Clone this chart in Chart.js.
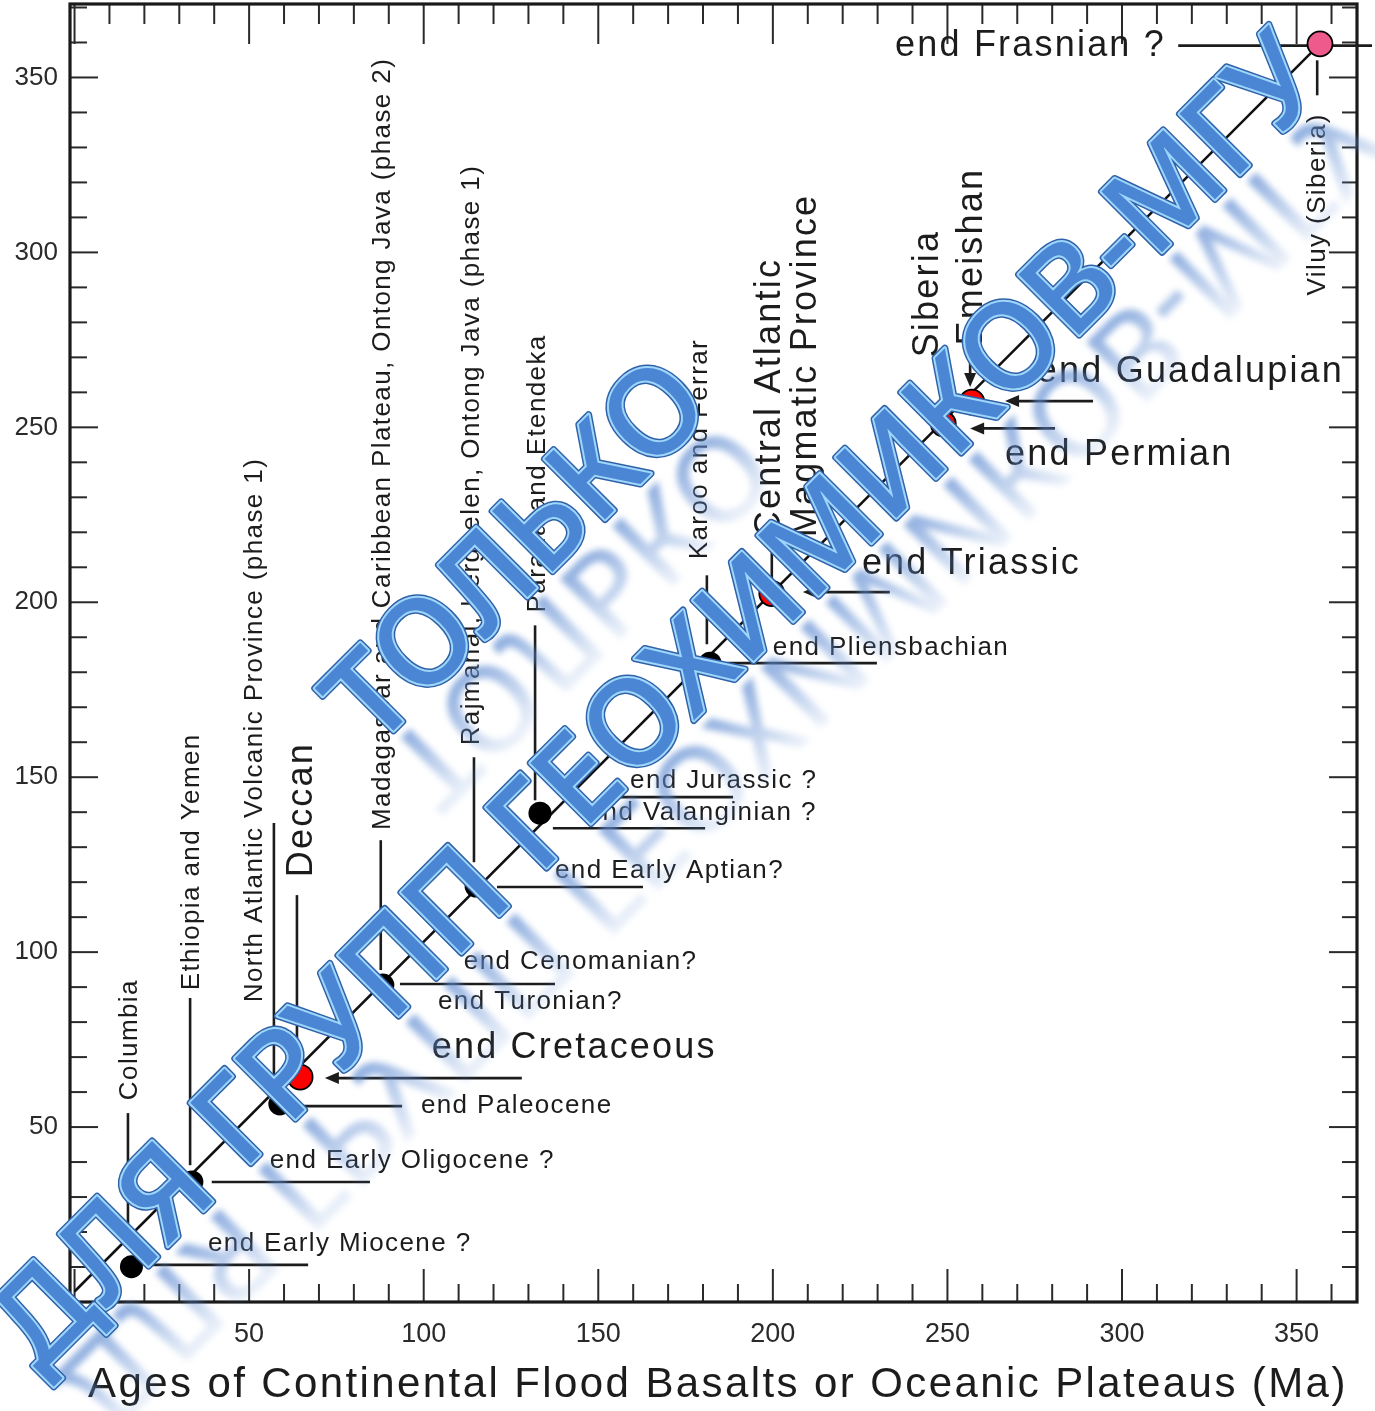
<!DOCTYPE html>
<html><head><meta charset="utf-8">
<script src="https://cdn.jsdelivr.net/npm/chart.js@4.4.1/dist/chart.umd.min.js"></script>
<style>html,body{margin:0;padding:0;background:#fff;} #wrap{width:1375px;height:1411px;}</style>
</head><body><div id="wrap"><canvas id="c" width="1375" height="1411"></canvas></div>
<script>
// ---------------- DATA ----------------
const provinces = ['Columbia','Ethiopia and Yemen','North Atlantic Volcanic Province (phase 1)','Deccan',
  'Madagascar and Caribbean Plateau, Ontong Java (phase 2)','Rajmahal, Kerguelen, Ontong Java (phase 1)',
  'Parana and Etendeka','Karoo and Ferrar','Central Atlantic Magmatic Province','Siberia','Emeishan','Viluy (Siberia)'];
const basaltAges     = [16.3, 33.6, 58.8, 64.6, 88.3, 115.0, 133.3, 182.0, 199.7, 248.8, 257.0, 356.7];
const extinctionAges = [10.1, 34.3, 56.6, 64.3, 90.6, 118.9, 139.7, 182.6, 202.5, 251.0, 257.2, 359.6];
const pointKind      = ['minor','minor','minor','major','minor','minor','minor','minor','major','major','major','devonian'];
const extinctionNames = ['end Early Miocene ?','end Early Oligocene ?','end Paleocene','end Cretaceous',
  'end Cenomanian?','end Turonian?','end Early Aptian?','end Jurassic ?','end Valanginian ?','end Pliensbachian',
  'end Triassic','end Permian','end Guadalupian','end Frasnian ?'];
const xTickLabels = [50,100,150,200,250,300,350];
const yTickLabels = [50,100,150,200,250,300,350];
const fitLineX = [0, 356.7];
const fitLineY = [3, 359.6];
const xTitle = 'Ages of Continental Flood Basalts or Oceanic Plateaus (Ma)';
const watermarkLines = ['ТОЛЬКО', 'ДЛЯ ГРУПП ГЕОХИМИКОВ-МГУ'];

// ---------------- LAYOUT (label placement, data units) ----------------
const extLayout = [
  {t:0,  x:38.2,  y:16.6,  lx:[21.6,66.9],   ly:10.6},
  {t:1,  x:55.9,  y:40.3,  lx:[39.3,84.6],   ly:34.3},
  {t:2,  x:99.2,  y:56.0,  lx:[64.0,93.8],   ly:56.0},
  {t:3,  x:102.3, y:72.6,  lx:[71.7,128.1],  ly:64.0, big:true, arrow:true},
  {t:4,  x:111.5, y:97.1},
  {t:5,  x:104.1, y:85.7,  lx:[93.2,137.6],  ly:90.9},
  {t:6,  x:137.6, y:123.1, lx:[121.0,162.8], ly:118.6},
  {t:7,  x:159.1, y:149.1, lx:[150.5,188.6], ly:144.3},
  {t:8,  x:146.7, y:139.7, lx:[137.0,180.6], ly:135.4},
  {t:9,  x:200.0, y:187.1, lx:[186.9,229.8], ly:182.6},
  {t:10, x:225.5, y:210.9, lx:[208.6,233.5], ly:202.9, big:true, arrow:true},
  {t:11, x:266.5, y:242.0, lx:[256.5,280.8], ly:249.7, big:true, arrow:true},
  {t:12, x:275.6, y:265.7, lx:[266.5,291.7], ly:257.5, big:true, arrow:true},
  {t:13, x:235.0, y:359.1, lx:[316.1,371.6], ly:359.1, big:true}
];
const provLayout = [
  {text:'Columbia', x:15.9, y:57.7, lx:15.3, ly:[16.3,54.0]},
  {text:'Ethiopia and Yemen', x:33.7, y:89.1, lx:33.1, ly:[39.1,86.9]},
  {text:'North Atlantic Volcanic Province (phase 1)', x:51.7, y:85.7, lx:57.1, ly:[60.6,136.9]},
  {text:'Deccan', x:65.2, y:121.4, lx:63.7, ly:[68.5,116.3], big:true, arrow:true},
  {text:'Madagascar and Caribbean Plateau, Ontong Java (phase 2)', x:88.3, y:134.9, lx:87.7, ly:[94.9,132.0]},
  {text:'Rajmahal, Kerguelen, Ontong Java (phase 1)', x:113.9, y:159.1, lx:114.4, ly:[125.7,155.7]},
  {text:'Parana and Etendeka', x:132.7, y:197.1, lx:131.9, ly:[143.4,193.4]},
  {text:'Karoo and Ferrar', x:179.1, y:212.3, lx:181.1, ly:[188.0,207.7]},
  {text:'Central Atlantic', x:199.2, y:218.6, lx:199.7, ly:[206.3,216.3], big:true},
  {text:'Magmatic Province', x:209.6, y:218.6, big:true},
  {text:'Siberia', x:244.5, y:270.0, big:true},
  {text:'Emeishan', x:257.1, y:273.4, lx:256.5, ly:[261.5,272.0], big:true, arrow:true},
  {text:'Viluy (Siberia)', x:356.2, y:287.7, lx:355.9, ly:[344.9,354.9]}
];

const FONT = '"Liberation Sans", Arial, Helvetica, sans-serif';
const INK = '#1c1c1c';
function setFont(ctx, big){
  ctx.font = (big ? '36px ' : '26px ') + FONT;
  ctx.letterSpacing = big ? '2.2px' : '1.4px';
}
function seg(ctx,x1,y1,x2,y2){ctx.beginPath();ctx.moveTo(x1,y1);ctx.lineTo(x2,y2);ctx.stroke();}
function arrowHead(ctx, tx, ty, dir){
  ctx.beginPath();
  if (dir==='left'){ctx.moveTo(tx,ty);ctx.lineTo(tx+14,ty-6);ctx.lineTo(tx+14,ty+6);}
  else {ctx.moveTo(tx,ty);ctx.lineTo(tx-6,ty-14);ctx.lineTo(tx+6,ty-14);}
  ctx.closePath();ctx.fill();
}

function drawFrame(chart){
  const {ctx, chartArea:a, scales:{x,y}} = chart;
  ctx.save();
  ctx.strokeStyle='#2a2a2a'; ctx.lineWidth=2;
  x.ticks.forEach(t=>{
    const v=t.value; if (v<0) return;
    const px=x.getPixelForValue(v); if (px<a.left+2||px>a.right-2) return;
    const major = v%50===0;
    seg(ctx,px,a.bottom,px,a.bottom-(major?33:18));
    seg(ctx,px,a.top,px,a.top+(major?40:20));
  });
  y.ticks.forEach(t=>{
    const v=t.value;
    const py=y.getPixelForValue(v); if (py<a.top+2||py>a.bottom-2) return;
    const major = v%50===0;
    seg(ctx,a.left,py,a.left+(major?28:17),py);
    seg(ctx,a.right,py,a.right-(major?28:15),py);
  });
  ctx.lineWidth=3.2; ctx.strokeStyle='#1a1a1a';
  ctx.strokeRect(a.left,a.top,a.right-a.left,a.bottom-a.top);
  ctx.restore();
}

function drawAnnotations(chart){
  const {ctx, scales:{x,y}} = chart;
  ctx.save();
  ctx.fillStyle=INK; ctx.strokeStyle=INK; ctx.lineWidth=2.6;
  extLayout.forEach(L=>{
    setFont(ctx, L.big);
    ctx.textAlign='left'; ctx.textBaseline='middle';
    ctx.fillText(extinctionNames[L.t], x.getPixelForValue(L.x), y.getPixelForValue(L.y));
    if (L.lx){
      const x1=x.getPixelForValue(L.lx[0]), x2=x.getPixelForValue(L.lx[1]), py=y.getPixelForValue(L.ly);
      seg(ctx, L.arrow?x1+8:x1, py, x2, py);
      if (L.arrow) arrowHead(ctx, x1, py, 'left');
    }
  });
  provLayout.forEach(L=>{
    setFont(ctx, L.big);
    ctx.save();
    ctx.translate(x.getPixelForValue(L.x), y.getPixelForValue(L.y));
    ctx.rotate(-Math.PI/2);
    ctx.textAlign='left'; ctx.textBaseline='middle';
    ctx.fillText(L.text, 0, 0);
    ctx.restore();
    if (L.lx!==undefined){
      const px=x.getPixelForValue(L.lx), y1=y.getPixelForValue(L.ly[0]), y2=y.getPixelForValue(L.ly[1]);
      seg(ctx, px, L.arrow?y1-8:y1, px, y2);
      if (L.arrow) arrowHead(ctx, px, y1, 'down');
    }
  });
  ctx.restore();
}

function drawTitle(chart){
  const {ctx, chartArea:a} = chart;
  ctx.save();
  ctx.font = '42px ' + FONT; ctx.letterSpacing='2.4px';
  ctx.fillStyle=INK; ctx.textAlign='left'; ctx.textBaseline='alphabetic';
  ctx.fillText(xTitle, a.left+18, a.bottom+95);
  ctx.restore();
}

function drawWatermark(chart){
  const {ctx} = chart;
  const placements = [{cx:515, cy:550}, {cx:655, cy:700}];
  const ang = -45*Math.PI/180;
  ctx.save();
  ctx.font = '500 120px "Noto Sans", "DejaVu Sans", sans-serif';
  ctx.letterSpacing='0px';
  ctx.textAlign='center'; ctx.textBaseline='alphabetic';
  ctx.lineJoin='round';
  watermarkLines.forEach((txt,i)=>{
    const p=placements[i];
    ctx.save();
    ctx.translate(p.cx,p.cy); ctx.rotate(ang);
    const base = 42;
    // reflection
    ctx.save();
    ctx.translate(0, base+10); ctx.scale(1,-1);
    const g = ctx.createLinearGradient(0,0,0,-100);
    g.addColorStop(0,'rgba(95,140,210,0.7)');
    g.addColorStop(1,'rgba(95,140,210,0)');
    ctx.fillStyle=g;
    ctx.filter='blur(3px)';
    ctx.fillText(txt,0,0);
    ctx.restore();
    // main text
    ctx.strokeStyle='#2f62a8'; ctx.lineWidth=7; ctx.strokeText(txt,0,base);
    ctx.strokeStyle='#9fd6fb'; ctx.lineWidth=4; ctx.strokeText(txt,0,base);
    ctx.fillStyle='#4a86d4'; ctx.fillText(txt,0,base);
    ctx.restore();
  });
  ctx.restore();
}

const decorPlugin = {
  id:'decor',
  beforeDatasetsDraw(chart){ drawFrame(chart); drawAnnotations(chart); },
  afterDraw(chart){ drawTitle(chart); drawWatermark(chart); }
};

const pointFill = {minor:'#000000', major:'#ff0000', devonian:'#ee5a8c'};
const pointR = {minor:11.5, major:12.5, devonian:12.5};

new Chart(document.getElementById('c').getContext('2d'), {
  data: {
    datasets: [
      {type:'scatter', label:'LIP vs extinction', order:1,
       data: basaltAges.map((v,i)=>({x:v, y:extinctionAges[i]})),
       backgroundColor: pointKind.map(k=>pointFill[k]),
       borderColor:'#000', borderWidth: pointKind.map(k=>k==='minor'?0:1.8),
       pointRadius: pointKind.map(k=>pointR[k]), pointHoverRadius: pointKind.map(k=>pointR[k]), clip:false},
      {type:'line', label:'1:1', order:2,
       data: fitLineX.map((v,i)=>({x:v, y:fitLineY[i]})),
       borderColor:'#111', borderWidth:2.5, pointRadius:0, fill:false, clip:false}
    ]
  },
  options: {
    responsive:false, animation:false, devicePixelRatio:1,
    layout:{autoPadding:false, padding:{top:4, right:18, left:0, bottom:0}},
    plugins:{legend:{display:false}, tooltip:{enabled:false}},
    scales:{
      x:{type:'linear', min:-1.3, max:367.3,
        grid:{display:false, drawTicks:false}, border:{display:false},
        ticks:{stepSize:10, includeBounds:false, autoSkip:false, maxRotation:0, padding:16,
          color:'#2a2a2a', font:{family:FONT, size:27},
          callback:(v)=> xTickLabels.includes(v) ? String(v) : ''},
        afterFit:(s)=>{ s.height = 109; s.paddingLeft = 0; s.paddingRight = 0; }
      },
      y:{type:'linear', min:0, max:371,
        grid:{display:false, drawTicks:false}, border:{display:false},
        ticks:{stepSize:10, includeBounds:false, autoSkip:false, padding:12,
          color:'#2a2a2a', font:{family:FONT, size:26},
          callback:(v)=> yTickLabels.includes(v) ? String(v) : ''},
        afterFit:(s)=>{ s.width = 70; s.paddingTop = 0; s.paddingBottom = 0; }
      }
    }
  },
  plugins:[decorPlugin]
});
</script></body></html>
